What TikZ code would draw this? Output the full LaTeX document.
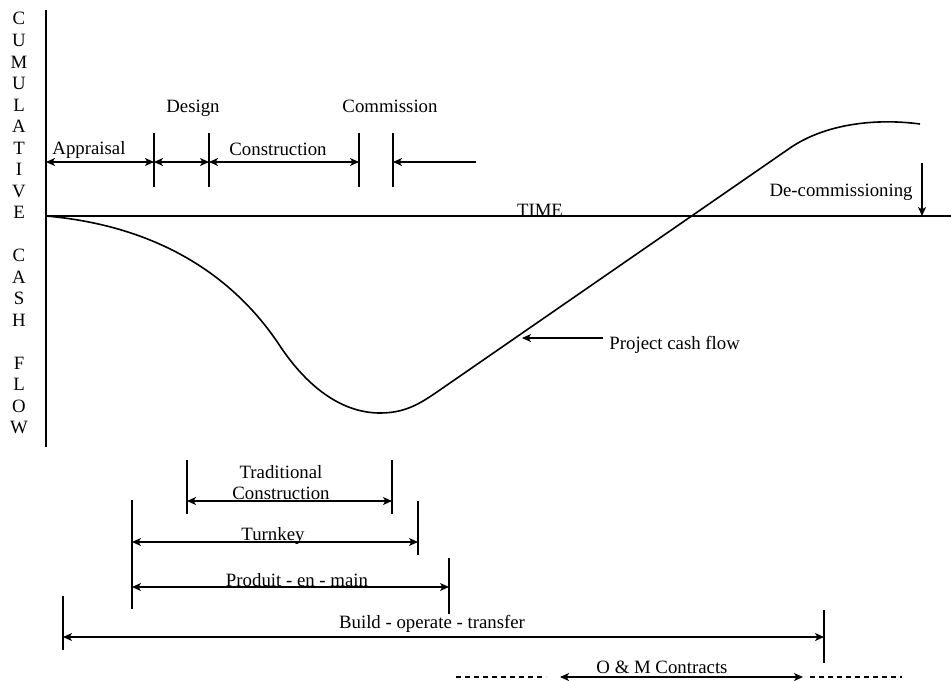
\documentclass[tikz,border=0pt]{standalone}
\usepackage{fontspec}
\setmainfont{Liberation Serif}
\usetikzlibrary{arrows.meta}
\begin{document}
\begin{tikzpicture}[x=0.5pt,y=-0.5pt,
  >={Stealth[length=4.5pt,width=4pt,inset=1.2pt]},
  lbl/.style={font=\fontsize{9.4}{11}\selectfont, inner sep=0pt},
  axis/.style={line width=0.9pt},
  flow/.style={line width=0.8pt},
  tickline/.style={line width=0.65pt},
  span/.style={<->, line width=0.65pt},
  pointer/.style={->, line width=0.65pt},
  ext/.style={dash pattern=on 2.6pt off 1.9pt, line width=0.65pt}]
\useasboundingbox (0,0) rectangle (951,680);

% axes
\coordinate (O) at (46,216);
\coordinate (ytop) at (46,10);
\coordinate (ybot) at (46,447);
\coordinate (xend) at (951,216);
\draw[axis] (ytop) -- (ybot);
\draw[axis] (O) -- (xend);

% vertical axis title, one letter per row (rows 10 and 15 left blank)
\foreach \k/\ch in {0/C,1/U,2/M,3/U,4/L,5/A,6/T,7/I,8/V,9/E,
                    11/C,12/A,13/S,14/H,16/F,17/L,18/O,19/W}{
  \node[lbl, anchor=base] (yl\k) at (19,{25+21.5*\k}) {\ch};
}

\node[lbl, anchor=base] (time) at (540,216) {TIME};

% cumulative cash flow curve
\coordinate (cend) at (920,124);
\draw[flow] (O) .. controls (150,225) and (230,270) .. (280,346)
  .. controls (310,391) and (345,413) .. (380,413)
  .. controls (410,413) and (425,400) .. (450,383)
  -- (790,148)
  .. controls (825,124) and (875,118) .. (cend);

% project phases along the top
\foreach \n/\x in {t1/154,t2/209,t3/359,t4/393}{
  \coordinate (\n u) at (\x,133);
  \coordinate (\n d) at (\x,187);
  \draw[tickline] (\n u) -- (\n d);
}
\coordinate (p0) at (46,162);
\coordinate (p1) at (154,162);
\coordinate (p2) at (209,162);
\coordinate (p3) at (359,162);
\coordinate (p4) at (393,162);
\coordinate (p5) at (476,162);
\draw[span] (p0) -- (p1);
\draw[span] (p1) -- (p2);
\draw[span] (p2) -- (p3);
\draw[pointer] (p5) -- (p4);
\node[lbl, anchor=base] (appraisal) at (89,154.5) {Appraisal};
\node[lbl, anchor=base] (design) at (193,112) {Design};
\node[lbl, anchor=base] (construction) at (278,155) {Construction};
\node[lbl, anchor=base] (commission) at (390,112) {Commission};

% de-commissioning marker
\coordinate (dtop) at (922,163);
\coordinate (dbot) at (922,216);
\draw[pointer] (dtop) -- (dbot);
\node[lbl, anchor=base east] (decom) at (913,196) {De-commissioning};

% curve label
\node[lbl, anchor=base west] (pcf) at (609,349) {Project cash flow};
\coordinate (pcs) at (603,338);
\coordinate (pce) at (522,338);
\draw[pointer] (pcs) -- (pce);

% contract spans
% traditional construction
\coordinate (tr1u) at (187,460); \coordinate (tr1d) at (187,514);
\coordinate (tr2u) at (392,460); \coordinate (tr2d) at (392,514);
\draw[tickline] (tr1u) -- (tr1d);
\draw[tickline] (tr2u) -- (tr2d);
\coordinate (tra) at (187,501); \coordinate (trb) at (392,501);
\draw[span] (tra) -- (trb);
\node[lbl, align=center, font=\fontsize{9.4}{10.5}\selectfont, anchor=north] (trad) at (281,465) {Traditional\\Construction};

% turnkey and produit-en-main share the left tick
\coordinate (tk0u) at (132,500); \coordinate (tk0d) at (132,609);
\draw[tickline] (tk0u) -- (tk0d);
\coordinate (tk1u) at (418,501); \coordinate (tk1d) at (418,555);
\draw[tickline] (tk1u) -- (tk1d);
\coordinate (tka) at (132,542); \coordinate (tkb) at (418,542);
\draw[span] (tka) -- (tkb);
\node[lbl, anchor=base] (turnkey) at (273,540) {Turnkey};

\coordinate (pm1u) at (449,558); \coordinate (pm1d) at (449,614);
\draw[tickline] (pm1u) -- (pm1d);
\coordinate (pma) at (132,587); \coordinate (pmb) at (449,587);
\draw[span] (pma) -- (pmb);
\node[lbl, anchor=base] (produit) at (297,586) {Produit - en - main};

% build-operate-transfer
\coordinate (bo0u) at (63,596); \coordinate (bo0d) at (63,650);
\coordinate (bo1u) at (824,610); \coordinate (bo1d) at (824,663);
\draw[tickline] (bo0u) -- (bo0d);
\draw[tickline] (bo1u) -- (bo1d);
\coordinate (boa) at (63,637); \coordinate (bob) at (824,637);
\draw[span] (boa) -- (bob);
\node[lbl, anchor=base] (bot) at (432,628) {Build - operate - transfer};

% operation and maintenance
\coordinate (om0) at (456,677); \coordinate (om1) at (546,677);
\coordinate (oma) at (560,677); \coordinate (omb) at (803,677);
\coordinate (om2) at (810,677); \coordinate (om3) at (902,677);
\draw[ext] (om0) -- (om1);
\draw[span] (oma) -- (omb);
\draw[ext] (om2) -- (om3);
\node[lbl, anchor=base] (om) at (662,673) {O \& M Contracts};
\end{tikzpicture}
\end{document}
